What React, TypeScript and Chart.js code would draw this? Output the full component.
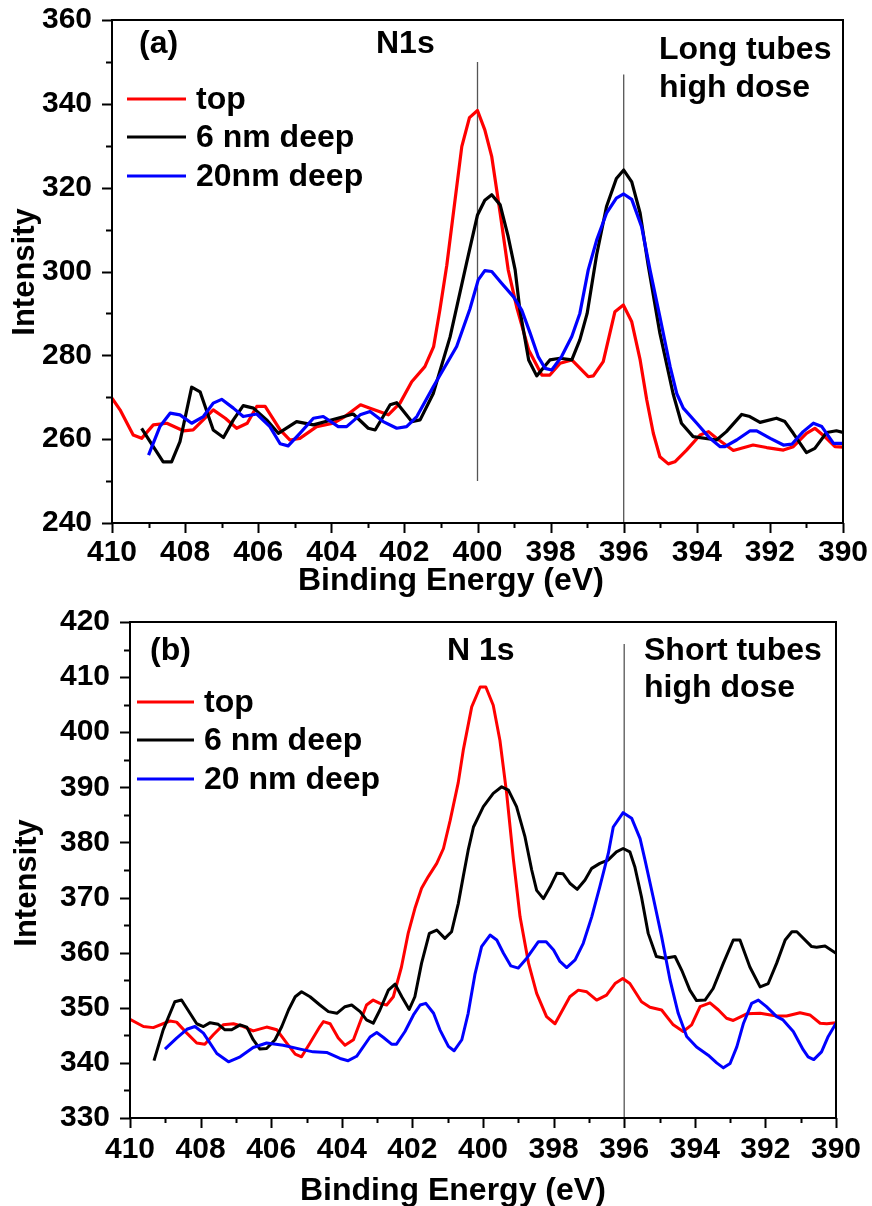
import React, { useEffect, useRef } from "react";
import { Chart, registerables } from "chart.js";

Chart.register(...registerables);

const FONT_FAMILY = "'Liberation Sans', Arial, Helvetica, sans-serif";
const SERIES_COLORS = ["#ff0000", "#000000", "#0000ff"];
const REF_COLOR = "#555555";

// ---- tick values ----
const X_TICKS = [410, 408, 406, 404, 402, 400, 398, 396, 394, 392, 390];
const A_Y_TICKS = [240, 260, 280, 300, 320, 340, 360];
const B_Y_TICKS = [330, 340, 350, 360, 370, 380, 390, 400, 410, 420];

// ---- panel (a): long tubes ----
const A_LABELS = ["top", "6 nm deep", "20nm deep"];
const A_TOP: number[][] = [
  [410, 269.8], [409.78, 267], [409.42, 261], [409.19, 260.2], [408.87, 263.4], [408.5, 263.8], [408.05, 262],
  [407.78, 262.2], [407.23, 267], [406.9, 265], [406.59, 262.6], [406.3, 263.8], [406.04, 267.8], [405.81, 267.8],
  [405.4, 262.2], [405.13, 259.8], [404.86, 260.2], [404.4, 263], [403.95, 263.8], [403.63, 265.4], [403.2, 268.2],
  [402.94, 267.4], [402.44, 265.8], [402.12, 268.6], [401.8, 273.7], [401.44, 277.3], [401.2, 282.1], [401.03, 290.8],
  [400.84, 301.5], [400.43, 329.8], [400.22, 336.7], [400, 338.4], [399.8, 333.8], [399.61, 327.4], [399.38, 313.9],
  [399.16, 300.4], [398.93, 291.6], [398.6, 281.3], [398.24, 275.3], [398.02, 275.3], [397.74, 278.1], [397.42, 278.9],
  [396.97, 274.9], [396.83, 275.1], [396.56, 278.5], [396.24, 290.4], [396.01, 292], [395.78, 288], [395.55, 278.9],
  [395.37, 269.4], [395.19, 261.4], [395.01, 255.8], [394.78, 254.1], [394.6, 254.6], [394.28, 257.4], [393.91, 261],
  [393.68, 261.8], [393.46, 260.2], [393, 257.3], [392.46, 258.6], [392.09, 258], [391.63, 257.4], [391.36, 258.2],
  [391, 261.4], [390.77, 262.6], [390.45, 260.2], [390.22, 258.2], [390, 258.1],
];
const A_6NM: number[][] = [
  [409.19, 262.6], [408.87, 258.2], [408.6, 254.6], [408.37, 254.6], [408.14, 259.4], [407.82, 272.4], [407.59, 271.3],
  [407.23, 262.2], [406.95, 260.4], [406.68, 264.6], [406.41, 268], [406.13, 267.4], [405.77, 264.6], [405.45, 261.4],
  [404.95, 264.2], [404.49, 263.4], [403.95, 264.7], [403.4, 266], [402.99, 262.6], [402.8, 262.2], [402.39, 268.2],
  [402.21, 268.7], [401.8, 264.2], [401.57, 264.6], [401.21, 270.9], [400.75, 284.4], [400.3, 302], [400.0, 313.5],
  [399.8, 317], [399.61, 318.3], [399.38, 315.9], [399.16, 308.3], [398.97, 300.4], [398.84, 290.8], [398.6, 278.9],
  [398.38, 275.1], [398.02, 278.9], [397.74, 279.3], [397.42, 278.9], [397.2, 283.7], [397.0, 290], [396.74, 304],
  [396.47, 315.5], [396.2, 322.2], [396.0, 324.2], [395.78, 321.4], [395.55, 313.9], [395.33, 301.5], [395.01, 285.3],
  [394.65, 270.9], [394.42, 263.8], [394.1, 260.6], [393.46, 259.8], [393.19, 261.8], [392.77, 265.9], [392.55, 265.4],
  [392.27, 264], [391.82, 265], [391.59, 264.2], [391.36, 261.4], [391.0, 256.8], [390.77, 257.8], [390.45, 261.6],
  [390.18, 262], [390.0, 261.6],
];
const A_20NM: number[][] = [
  [409.0, 256.2], [408.69, 263], [408.41, 266.2], [408.14, 265.8], [407.82, 263.8], [407.5, 265.4], [407.23, 268.6],
  [407.0, 269.5], [406.68, 267.4], [406.41, 265.4], [406.04, 266], [405.68, 263], [405.4, 258.9], [405.18, 258.4],
  [404.86, 261.4], [404.49, 265], [404.22, 265.4], [403.81, 263], [403.58, 263], [403.21, 265.8], [402.94, 266.6],
  [402.58, 264.2], [402.21, 262.6], [401.94, 263], [401.66, 265.4], [401.21, 272.5], [400.57, 282.1], [400.21, 291],
  [399.98, 298], [399.8, 300.2], [399.61, 300], [399.34, 297.2], [399.02, 294], [398.79, 290.8], [398.56, 285.3],
  [398.34, 279.7], [398.15, 276.9], [397.97, 276.5], [397.7, 279.7], [397.42, 284.5], [397.2, 290], [396.97, 300.4],
  [396.74, 307.5], [396.47, 313.9], [396.2, 317.5], [396.0, 318.5], [395.78, 317.2], [395.51, 310.7], [395.28, 300.4],
  [395.01, 289.2], [394.73, 277.3], [394.55, 270.9], [394.37, 267.4], [394.0, 263.8], [393.64, 260.2], [393.36, 258.2],
  [393.23, 258.2], [392.91, 259.8], [392.54, 262], [392.36, 262], [391.99, 260.2], [391.63, 258.6], [391.4, 258.8],
  [391.09, 261.8], [390.81, 263.8], [390.58, 263], [390.26, 259], [390.0, 259],
];
// reference lines: [energy, from, to]
const A_REF_LINES: number[][] = [[400, 250, 350], [396, 240, 347]];

// ---- panel (b): short tubes ----
const B_LABELS = ["top", "6 nm deep", "20 nm deep"];
const B_TOP: number[][] = [
  [410, 347.9], [409.62, 346.6], [409.34, 346.4], [408.87, 347.6], [408.68, 347.4], [408.39, 345.4], [408.11, 343.6],
  [407.88, 343.4], [407.64, 345.1], [407.36, 346.9], [407.07, 347.1], [406.79, 346.6], [406.51, 345.8], [406.13, 346.5],
  [405.84, 346], [405.56, 343.6], [405.32, 341.6], [405.14, 341.1], [404.9, 343.6], [404.62, 346.6], [404.52, 347.5],
  [404.33, 347.1], [404.1, 344.5], [403.91, 343.2], [403.67, 344.2], [403.3, 350.5], [403.11, 351.4], [402.92, 350.8],
  [402.73, 350.5], [402.54, 352], [402.31, 357.4], [402.12, 363.5], [401.93, 368], [401.74, 371.7], [401.55, 373.8],
  [401.31, 376.2], [401.12, 378.9], [400.93, 384], [400.7, 390.9], [400.56, 396.7], [400.32, 404.6], [400.08, 408.2],
  [399.92, 408.2], [399.71, 404.9], [399.52, 398.5], [399.33, 388.9], [399.14, 377], [398.95, 366.5], [398.71, 358.1],
  [398.48, 352.6], [398.2, 348.4], [397.96, 347.1], [397.54, 352], [397.3, 353.2], [397.06, 352.9], [396.78, 351.4],
  [396.5, 352.3], [396.26, 354.4], [396.04, 355.3], [395.84, 354.4], [395.51, 351.1], [395.27, 350.1], [394.94, 349.6],
  [394.61, 346.9], [394.33, 345.7], [394.09, 346.9], [393.85, 350.2], [393.57, 350.9], [393.33, 349.6], [393.1, 348.1],
  [392.91, 347.7], [392.53, 348.9], [392.15, 349], [391.68, 348.5], [391.4, 348.5], [391.02, 349.1], [390.74, 348.7],
  [390.45, 347.2], [390.26, 347.1], [390, 347.3],
];
const B_6NM: number[][] = [
  [409.32, 340.4], [409.06, 346], [408.73, 351.1], [408.54, 351.4], [408.3, 349], [408.11, 347.1], [407.92, 346.6],
  [407.73, 347.3], [407.5, 347], [407.31, 346], [407.12, 346], [406.88, 346.9], [406.69, 346.5], [406.51, 344.2],
  [406.32, 342.5], [406.13, 342.6], [405.89, 344.2], [405.7, 346.6], [405.51, 349.6], [405.32, 352], [405.14, 352.9],
  [404.9, 352], [404.62, 350.5], [404.38, 349.3], [404.14, 349], [403.91, 350.2], [403.72, 350.5], [403.48, 349.3],
  [403.3, 347.8], [403.11, 347.2], [402.92, 349.6], [402.68, 353.2], [402.49, 354.3], [402.3, 352], [402.09, 349.7],
  [401.93, 352], [401.74, 358.1], [401.52, 363.5], [401.31, 364.1], [401.08, 362.6], [400.89, 363.8], [400.7, 368.9],
  [400.56, 373.8], [400.42, 378.6], [400.27, 382.8], [399.99, 386.5], [399.71, 388.9], [399.47, 390.1], [399.28, 389.5],
  [399.05, 386.5], [398.81, 381], [398.62, 375], [398.48, 371.3], [398.29, 369.8], [398.1, 371.9], [397.91, 374.4],
  [397.73, 374.3], [397.54, 372.6], [397.33, 371.5], [397.11, 373.2], [396.92, 375.3], [396.69, 376.2], [396.46, 376.8],
  [396.22, 378.3], [396.03, 378.9], [395.84, 378.3], [395.7, 375.6], [395.51, 370.1], [395.32, 363.5], [395.09, 359.3],
  [394.85, 359], [394.56, 359.3], [394.37, 356.8], [394.14, 353.2], [393.95, 351.3], [393.71, 351.4], [393.48, 353.5],
  [393.19, 358.1], [392.91, 362.3], [392.72, 362.3], [392.44, 357.4], [392.15, 353.8], [391.92, 354.4], [391.68, 358.1],
  [391.44, 362.3], [391.25, 363.8], [391.11, 363.8], [390.69, 361.1], [390.55, 361], [390.31, 361.2], [390.0, 359.9],
];
const B_20NM: number[][] = [
  [409.01, 342.5], [408.68, 344.5], [408.39, 346.1], [408.16, 346.6], [407.92, 345.4], [407.54, 341.7], [407.21, 340.2],
  [406.88, 341.1], [406.51, 342.8], [406.13, 343.6], [405.66, 343.2], [405.18, 342.5], [404.81, 342], [404.43, 341.9],
  [404.05, 340.8], [403.82, 340.4], [403.58, 341.2], [403.2, 344.7], [403.01, 345.5], [402.82, 344.6], [402.59, 343.4],
  [402.45, 343.4], [402.21, 345.7], [401.97, 348.7], [401.78, 350.5], [401.62, 350.8], [401.4, 349], [401.22, 346],
  [400.98, 343], [400.82, 342.2], [400.6, 344.2], [400.42, 349], [400.23, 356], [400.04, 361.1], [399.8, 363.2],
  [399.61, 362.3], [399.42, 359.9], [399.21, 357.6], [399.0, 357.2], [398.76, 359], [398.43, 362], [398.21, 362],
  [398.0, 360.5], [397.82, 358.4], [397.63, 357.3], [397.39, 358.7], [397.16, 361.7], [396.92, 366.5], [396.69, 372],
  [396.45, 378], [396.31, 382.8], [396.03, 385.4], [395.79, 384.4], [395.55, 380.7], [395.41, 376.8], [395.18, 370.1],
  [394.94, 362.9], [394.7, 355], [394.47, 349], [394.23, 344.8], [393.95, 342.9], [393.62, 341.4], [393.38, 340],
  [393.19, 339.1], [393.0, 339.9], [392.81, 342.9], [392.62, 347.2], [392.39, 350.8], [392.2, 351.4], [391.97, 350.2],
  [391.68, 348.4], [391.5, 347.8], [391.21, 345.7], [390.93, 342.4], [390.79, 341.1], [390.63, 340.6], [390.41, 342],
  [390.22, 344.8], [390.0, 347.2],
];
const B_REF_LINES: number[][] = [[396, 330, 416]];

type TextItem = { t: string; x: number; y: number };
type Panel = {
  top: number;
  height: number;
  area: { left: number; right: number; top: number; bottom: number };
  series: number[][][];
  labels: string[];
  refLines: number[][];
  yTicks: number[];
  yMinorStep: number;
  lineWidth: number;
  xTickPad: number;
  texts: TextItem[];
  legend: { x0: number; x1: number; tx: number; ys: number[] };
  xTitle: TextItem;
  yTitle: TextItem;
};

const WIDTH = 872;

const PANELS: Panel[] = [
  {
    top: 0,
    height: 600,
    area: { left: 112, right: 843, top: 20, bottom: 523 },
    series: [A_TOP, A_6NM, A_20NM],
    labels: A_LABELS,
    refLines: A_REF_LINES,
    yTicks: A_Y_TICKS,
    yMinorStep: 10,
    lineWidth: 3.2,
    xTickPad: 12,
    texts: [
      { t: "(a)", x: 139, y: 53 },
      { t: "N1s", x: 376, y: 53 },
      { t: "Long tubes", x: 659, y: 59 },
      { t: "high dose", x: 659, y: 97 },
    ],
    legend: { x0: 127, x1: 186, tx: 196, ys: [99, 137, 176] },
    xTitle: { t: "Binding Energy (eV)", x: 298, y: 590 },
    yTitle: { t: "Intensity", x: 25, y: 272 },
  },
  {
    top: 600,
    height: 606,
    area: { left: 130, right: 836, top: 22, bottom: 518 },
    series: [B_TOP, B_6NM, B_20NM],
    labels: B_LABELS,
    refLines: B_REF_LINES,
    yTicks: B_Y_TICKS,
    yMinorStep: 5,
    lineWidth: 3,
    xTickPad: 14,
    texts: [
      { t: "(b)", x: 150, y: 60 },
      { t: "N 1s", x: 447, y: 60 },
      { t: "Short tubes", x: 644, y: 60 },
      { t: "high dose", x: 644, y: 97 },
    ],
    legend: { x0: 137, x1: 194, tx: 204, ys: [102, 140, 179] },
    xTitle: { t: "Binding Energy (eV)", x: 300, y: 600 },
    yTitle: { t: "Intensity", x: 27, y: 283 },
  },
];

function makeDecor(p: Panel) {
  return {
    id: "decor",
    afterDraw(chart: any) {
      const { ctx, chartArea: a, scales } = chart;
      const xs = scales.x;
      const ys = scales.y;
      ctx.save();
      ctx.strokeStyle = "#000";
      ctx.lineWidth = 2;
      ctx.strokeRect(a.left, a.top, a.right - a.left, a.bottom - a.top);

      // x tick marks (major every 2, minor every 1)
      const xmin = Math.min(...X_TICKS);
      const xmax = Math.max(...X_TICKS);
      ctx.beginPath();
      for (let v = xmin; v <= xmax; v += 1) {
        const px = Math.round(xs.getPixelForValue(v)) + 0.5;
        const len = v % 2 === 0 ? 10 : 5;
        ctx.moveTo(px, a.bottom);
        ctx.lineTo(px, a.bottom + len);
      }
      // y tick marks
      const ymin = Math.min(...p.yTicks);
      const ymax = Math.max(...p.yTicks);
      for (let v = ymin; v <= ymax + 1e-6; v += p.yMinorStep) {
        const py = Math.round(ys.getPixelForValue(v)) + 0.5;
        const len = p.yTicks.includes(v) ? 10 : 6;
        ctx.moveTo(a.left, py);
        ctx.lineTo(a.left - len, py);
      }
      ctx.stroke();

      // legend
      ctx.font = `bold 32px ${FONT_FAMILY}`;
      ctx.textAlign = "left";
      ctx.textBaseline = "alphabetic";
      p.labels.forEach((lab, i) => {
        const y = p.legend.ys[i];
        ctx.strokeStyle = SERIES_COLORS[i];
        ctx.lineWidth = 3.2;
        ctx.beginPath();
        ctx.moveTo(p.legend.x0, y);
        ctx.lineTo(p.legend.x1, y);
        ctx.stroke();
        ctx.fillStyle = "#000";
        ctx.fillText(lab, p.legend.tx, y + 9.5);
      });

      // annotations
      ctx.fillStyle = "#000";
      p.texts.forEach((t) => ctx.fillText(t.t, t.x, t.y));

      // axis titles
      ctx.font = `bold 32px ${FONT_FAMILY}`;
      ctx.fillText(p.xTitle.t, p.xTitle.x, p.xTitle.y);
      ctx.font = `bold 31px ${FONT_FAMILY}`;
      ctx.save();
      ctx.translate(p.yTitle.x, p.yTitle.y);
      ctx.rotate(-Math.PI / 2);
      ctx.textAlign = "center";
      ctx.textBaseline = "middle";
      ctx.fillText(p.yTitle.t, 0, 0);
      ctx.restore();

      ctx.restore();
    },
  };
}

function zeroPadding(s: any) {
  s.paddingTop = 0;
  s.paddingBottom = 0;
  s.paddingLeft = 0;
  s.paddingRight = 0;
}

function PanelChart({ p }: { p: Panel }) {
  const ref = useRef<HTMLCanvasElement | null>(null);
  useEffect(() => {
    if (!ref.current) return;
    const tickFont = { family: FONT_FAMILY, size: 30, weight: "bold" as const };
    const datasets: any[] = [
      ...p.series.map((s, i) => ({
        label: p.labels[i],
        data: s.map(([x, y]) => ({ x, y })),
        borderColor: SERIES_COLORS[i],
        backgroundColor: SERIES_COLORS[i],
        borderWidth: p.lineWidth,
        pointRadius: 0,
        tension: 0,
        fill: false,
        borderJoinStyle: "round",
        order: 3 - i,
      })),
      ...p.refLines.map(([x, y0, y1]) => ({
        label: "",
        data: [
          { x, y: y0 },
          { x, y: y1 },
        ],
        borderColor: REF_COLOR,
        borderWidth: 1.3,
        pointRadius: 0,
        fill: false,
        order: 10,
      })),
    ];
    const config: any = {
      type: "line",
      data: { datasets },
      options: {
        animation: false,
        responsive: false,
        maintainAspectRatio: false,
        layout: {
          autoPadding: false,
          padding: { left: 0, top: p.area.top, right: WIDTH - p.area.right, bottom: 0 },
        },
        plugins: {
          legend: { display: false },
          tooltip: { enabled: false },
          title: { display: false },
        },
        scales: {
          x: {
            type: "linear",
            position: "bottom",
            min: Math.min(...X_TICKS),
            max: Math.max(...X_TICKS),
            reverse: true,
            grid: { display: false, drawTicks: false },
            border: { display: false },
            ticks: {
              color: "#000",
              font: tickFont,
              padding: p.xTickPad,
              autoSkip: false,
              maxRotation: 0,
              minRotation: 0,
            },
            afterBuildTicks: (s: any) => {
              s.ticks = X_TICKS.map((v) => ({ value: v }));
            },
            afterFit: (s: any) => {
              s.height = p.height - p.area.bottom;
              zeroPadding(s);
            },
          },
          y: {
            type: "linear",
            position: "left",
            min: Math.min(...p.yTicks),
            max: Math.max(...p.yTicks),
            grid: { display: false, drawTicks: false },
            border: { display: false },
            ticks: {
              color: "#000",
              font: tickFont,
              padding: 20,
              autoSkip: false,
            },
            afterBuildTicks: (s: any) => {
              s.ticks = p.yTicks.map((v) => ({ value: v }));
            },
            afterFit: (s: any) => {
              s.width = p.area.left;
              zeroPadding(s);
            },
          },
        },
      },
      plugins: [makeDecor(p)],
    };
    const chart = new Chart(ref.current, config);
    return () => chart.destroy();
  }, [p]);
  return (
    <canvas
      ref={ref}
      width={WIDTH}
      height={p.height}
      style={{ position: "absolute", left: 0, top: p.top, width: WIDTH, height: p.height, display: "block" }}
    />
  );
}

export default function App() {
  return (
    <div style={{ position: "absolute", left: 0, top: 0, width: WIDTH, height: 1206, background: "#fff" }}>
      {PANELS.map((p, i) => (
        <PanelChart key={i} p={p} />
      ))}
    </div>
  );
}
